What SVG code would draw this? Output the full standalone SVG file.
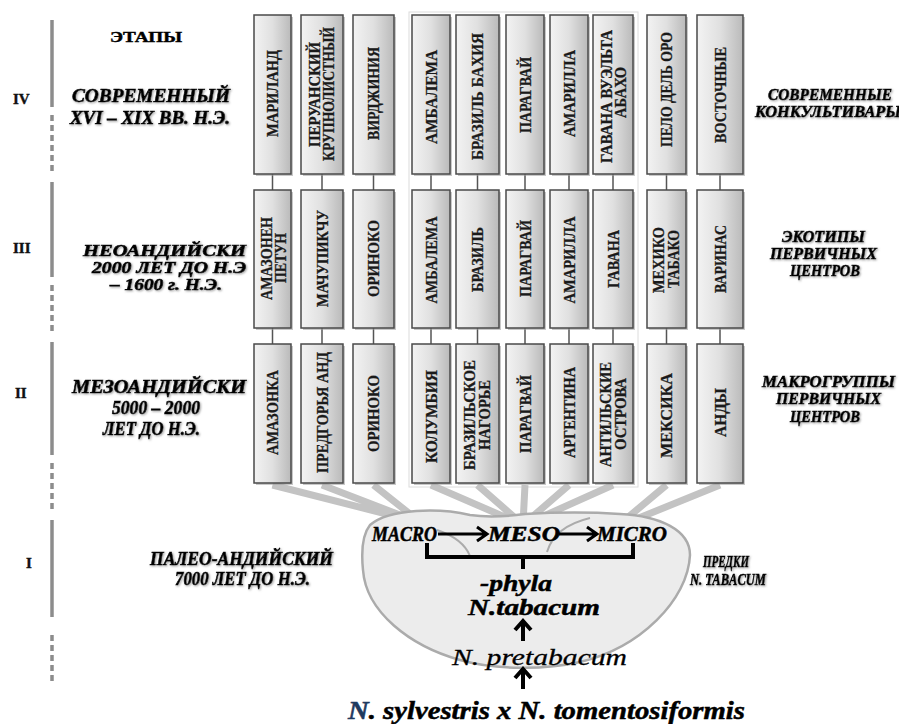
<svg xmlns="http://www.w3.org/2000/svg" width="899" height="724" viewBox="0 0 899 724">
<defs>
<linearGradient id="boxg" x1="0" y1="0" x2="1" y2="0">
<stop offset="0" stop-color="#f3f3f3"/>
<stop offset="0.5" stop-color="#e0e0e0"/>
<stop offset="1" stop-color="#bababa"/>
</linearGradient>
<filter id="sh" x="-10%" y="-20%" width="130%" height="150%">
<feDropShadow dx="1" dy="1" stdDeviation="0.8" flood-color="#777" flood-opacity="0.7"/>
</filter>
</defs>
<style>
.box{fill:url(#boxg);stroke:#4a4a4a;stroke-width:1.5}
.bsh{fill:#9a9a9a;opacity:0.55}
.bl{font-family:"Liberation Serif","Times New Roman",serif;font-weight:bold;font-size:17px;fill:#1a1a1a;stroke:#1a1a1a;stroke-width:0.3;text-anchor:middle}
.b2{font-size:16px}
.it{font-family:"Liberation Serif","Times New Roman",serif;font-weight:bold;font-style:italic;font-size:18px;fill:#000;stroke:#000;stroke-width:0.6;filter:url(#sh)}
.sm{font-size:16px}
.itr{font-family:"Liberation Serif","Times New Roman",serif;font-weight:bold;font-style:italic;font-size:16px;fill:#000;stroke:#000;stroke-width:0.6;filter:url(#sh)}
.rn{font-family:"Liberation Serif","Times New Roman",serif;font-weight:bold;font-size:15px;fill:#111;stroke:#111;stroke-width:0.4}
.tl{stroke:#8c8c8c;stroke-width:3.5;fill:none}
.tld{stroke:#8c8c8c;stroke-width:3.5;fill:none;stroke-dasharray:6 4}
.vc{stroke:#555;stroke-width:1.5;fill:none}
.fan{stroke:#c3c3c3;stroke-width:7;fill:none}
.blk{stroke:#000;stroke-width:3;fill:none;stroke-linejoin:miter}
.blk4{stroke:#000;stroke-width:4;fill:none}
.big{font-family:"Liberation Serif","Times New Roman",serif;font-weight:bold;font-style:italic;fill:#000;stroke:#000;stroke-width:0.5}
</style>
<rect width="899" height="724" fill="#fff"/>

<g id="timeline">
<line class="tl" x1="52" y1="20" x2="52" y2="107"/>
<line class="tld" x1="52" y1="115" x2="52" y2="174"/>
<line class="tl" x1="52" y1="182" x2="52" y2="277"/>
<line class="tld" x1="52" y1="285" x2="52" y2="335"/>
<line class="tl" x1="52" y1="342" x2="52" y2="455"/>
<line class="tld" x1="52" y1="463" x2="52" y2="512"/>
<line class="tl" x1="52" y1="520" x2="52" y2="617"/>
<line class="tld" x1="52" y1="635" x2="52" y2="684"/>
</g>
<g id="numerals">
<text class="rn" x="13" y="104">IV</text>
<text class="rn" x="13" y="253">III</text>
<text class="rn" x="15" y="398">II</text>
<text class="rn" x="26" y="568">I</text>
</g>

<g id="stage-labels">
<text x="110" y="42" font-family="Liberation Serif, serif" font-weight="bold" font-size="14" stroke="#000" stroke-width="0.4" textLength="72" lengthAdjust="spacingAndGlyphs">ЭТАПЫ</text>
<text class="it" x="72" y="102" textLength="158" lengthAdjust="spacingAndGlyphs">СОВРЕМЕННЫЙ</text>
<text class="it" x="70" y="124" textLength="160" lengthAdjust="spacingAndGlyphs">XVI – XIX ВВ. Н.Э.</text>
<text class="it sm" x="83" y="256" textLength="163" lengthAdjust="spacingAndGlyphs">НЕОАНДИЙСКИ</text>
<text class="it sm" x="92" y="273" textLength="154" lengthAdjust="spacingAndGlyphs">2000 ЛЕТ ДО Н.Э</text>
<text class="it sm" x="110" y="290" textLength="112" lengthAdjust="spacingAndGlyphs">– 1600 г. Н.Э.</text>
<text class="it" x="72" y="393" textLength="174" lengthAdjust="spacingAndGlyphs">МЕЗОАНДИЙСКИ</text>
<text class="it" x="112" y="414" textLength="88" lengthAdjust="spacingAndGlyphs">5000 – 2000</text>
<text class="it" x="103" y="435" textLength="97" lengthAdjust="spacingAndGlyphs">ЛЕТ ДО Н.Э.</text>
<text class="it" x="150" y="565" textLength="183" lengthAdjust="spacingAndGlyphs">ПАЛЕО-АНДИЙСКИЙ</text>
<text class="it" x="175" y="585" textLength="135" lengthAdjust="spacingAndGlyphs">7000 ЛЕТ ДО Н.Э.</text>
</g>

<g id="level-labels">
<text class="itr" x="768" y="100" textLength="124" lengthAdjust="spacingAndGlyphs">СОВРЕМЕННЫЕ</text>
<text class="itr" x="755" y="117" textLength="146" lengthAdjust="spacingAndGlyphs">КОНКУЛЬТИВАРЫ</text>
<text class="itr" x="782" y="242" textLength="83" lengthAdjust="spacingAndGlyphs">ЭКОТИПЫ</text>
<text class="itr" x="770" y="259" textLength="107" lengthAdjust="spacingAndGlyphs">ПЕРВИЧНЫХ</text>
<text class="itr" x="790" y="276" textLength="70" lengthAdjust="spacingAndGlyphs">ЦЕНТРОВ</text>
<text class="itr" x="762" y="387" textLength="133" lengthAdjust="spacingAndGlyphs">МАКРОГРУППЫ</text>
<text class="itr" x="776" y="404" textLength="105" lengthAdjust="spacingAndGlyphs">ПЕРВИЧНЫХ</text>
<text class="itr" x="790" y="422" textLength="70" lengthAdjust="spacingAndGlyphs">ЦЕНТРОВ</text>
<text class="itr" x="703" y="567" textLength="46" lengthAdjust="spacingAndGlyphs">ПРЕДКИ</text>
<text class="itr" x="690" y="585" textLength="76" lengthAdjust="spacingAndGlyphs">N. TABACUM</text>
</g>

<rect x="409" y="12" width="229" height="475" fill="none" stroke="#dcdcdc" stroke-width="1"/>

<g id="connectors">
<g id="row-links">
<path class="vc" d="M272.5 174V190M322 174V190M373.5 174V190M431 174V190M477.5 174V190M525 174V190M569 174V190M613 174V190M666.5 174V190M720 174V190"/>
<path class="vc" d="M272.5 328V344M322 328V344M373.5 328V344M431 328V344M477.5 328V344M525 328V344M569 328V344M613 328V344M666.5 328V344M720 328V344"/>
</g>
<g id="fan">
<path class="fan" d="M272.5 485L418 522M322 485L418 522M373.5 485L420 522"/>
<path class="fan" d="M431 485L521 524M477.5 485L522 524M525 485L523 524M569 485L524 524M613 485L526 524"/>
<path class="fan" d="M666.5 485L620 524M720 485L624 524"/>
</g>
</g>

<g id="phyla-shape">
<path d="M370 525C390 508 440 508 470 515C490 518 510 516 525 514C560 512 590 512 620 514C660 516 690 530 690 555C688 600 640 648 580 662C545 670 495 670 460 660C410 646 366 612 363 570C361 550 362 535 370 525Z" fill="#ececec" stroke="#ababab" stroke-width="2.5"/>
<path d="M437 530C455 536 466 546 470 556" fill="none" stroke="#ababab" stroke-width="2"/>
<path d="M547 552C552 535 565 524 590 518" fill="none" stroke="#ababab" stroke-width="2"/>
</g>

<g id="arrows">
<path class="blk" d="M438 534H486M477 527L487 534L477 541"/>
<path class="blk" d="M559 534H596M587 527L597 534L587 541"/>
<path class="blk4" d="M427 543V557H633V543M523 557V569"/>
<path class="blk4" d="M523 641V622M515 630L523 621L531 630"/>
<path class="blk4" d="M523 689V670M515 678L523 669L531 678"/>
</g>

<g id="phyla-labels">
<text class="big" x="372" y="541" font-size="20" textLength="65" lengthAdjust="spacingAndGlyphs">MACRO</text>
<text class="big" x="488" y="541" font-size="20" textLength="72" lengthAdjust="spacingAndGlyphs">MESO</text>
<text class="big" x="597" y="541" font-size="20" textLength="70" lengthAdjust="spacingAndGlyphs">MICRO</text>
<text class="big" x="480" y="591" font-size="24" textLength="72" lengthAdjust="spacingAndGlyphs">-phyla</text>
<text class="big" x="468" y="615" font-size="24" textLength="132" lengthAdjust="spacingAndGlyphs">N.tabacum</text>
<text x="452" y="665" font-family="Liberation Serif, serif" font-style="italic" font-size="24" stroke="#000" stroke-width="0.3" textLength="175" lengthAdjust="spacingAndGlyphs">N. pretabacum</text>
<text class="big" x="348" y="719" font-size="25" textLength="397" lengthAdjust="spacingAndGlyphs"><tspan fill="#1f3a5f" stroke="#1f3a5f">N</tspan>. sylvestris x N. tomentosiformis</text>
</g>

<g id="row4">
<g id="n4-1"><rect class="bsh" x="256" y="17" width="37" height="159"/><rect class="box" x="254" y="15" width="37" height="159"/><text class="bl" transform="translate(272.5,93.5) rotate(-90)" y="5.6" textLength="87" lengthAdjust="spacingAndGlyphs">МАРИЛАНД</text></g>
<g id="n4-2"><rect class="bsh" x="303" y="17" width="42" height="159"/><rect class="box" x="301" y="15" width="42" height="159"/><text class="bl b2" transform="translate(315,94.5) rotate(-90)" y="5.3" textLength="105" lengthAdjust="spacingAndGlyphs">ПЕРУАНСКИЙ</text><text class="bl b2" transform="translate(328.5,94) rotate(-90)" y="5.3" textLength="134" lengthAdjust="spacingAndGlyphs">КРУПНОЛИСТНЫЙ</text></g>
<g id="n4-3"><rect class="bsh" x="355" y="17" width="41" height="159"/><rect class="box" x="353" y="15" width="41" height="159"/><text class="bl" transform="translate(373.5,93.5) rotate(-90)" y="5.6" textLength="93" lengthAdjust="spacingAndGlyphs">ВИРДЖИНИЯ</text></g>
<g id="n4-4"><rect class="bsh" x="414" y="17" width="38" height="159"/><rect class="box" x="412" y="15" width="38" height="159"/><text class="bl" transform="translate(431,97) rotate(-90)" y="5.6" textLength="94" lengthAdjust="spacingAndGlyphs">АМБАЛЕМА</text></g>
<g id="n4-5"><rect class="bsh" x="458" y="17" width="43" height="159"/><rect class="box" x="456" y="15" width="43" height="159"/><text class="bl" transform="translate(477.5,96.5) rotate(-90)" y="5.6" textLength="127" lengthAdjust="spacingAndGlyphs">БРАЗИЛЬ БАХИЯ</text></g>
<g id="n4-6"><rect class="bsh" x="508" y="17" width="38" height="159"/><rect class="box" x="506" y="15" width="38" height="159"/><text class="bl" transform="translate(525,95) rotate(-90)" y="5.6" textLength="76" lengthAdjust="spacingAndGlyphs">ПАРАГВАЙ</text></g>
<g id="n4-7"><rect class="bsh" x="552" y="17" width="38" height="159"/><rect class="box" x="550" y="15" width="38" height="159"/><text class="bl" transform="translate(569,93.5) rotate(-90)" y="5.6" textLength="87" lengthAdjust="spacingAndGlyphs">АМАРИЛЛА</text></g>
<g id="n4-8"><rect class="bsh" x="595" y="17" width="40" height="159"/><rect class="box" x="593" y="15" width="40" height="159"/><text class="bl b2" transform="translate(606.5,96.5) rotate(-90)" y="5.3" textLength="133" lengthAdjust="spacingAndGlyphs">ГАВАНА ВУЭЛЬТА</text><text class="bl b2" transform="translate(621,92.5) rotate(-90)" y="5.3" textLength="51" lengthAdjust="spacingAndGlyphs">АБАХО</text></g>
<g id="n4-9"><rect class="bsh" x="649" y="17" width="39" height="159"/><rect class="box" x="647" y="15" width="39" height="159"/><text class="bl" transform="translate(666.5,89.5) rotate(-90)" y="5.6" textLength="115" lengthAdjust="spacingAndGlyphs">ПЕЛО ДЕЛЬ ОРО</text></g>
<g id="n4-10"><rect class="bsh" x="699" y="17" width="46" height="159"/><rect class="box" x="697" y="15" width="46" height="159"/><text class="bl" transform="translate(720,95) rotate(-90)" y="5.6" textLength="96" lengthAdjust="spacingAndGlyphs">ВОСТОЧНЫЕ</text></g>
</g>

<g id="row3">
<g id="n3-1"><rect class="bsh" x="256" y="192" width="37" height="138"/><rect class="box" x="254" y="190" width="37" height="138"/><text class="bl b2" transform="translate(266.5,258.5) rotate(-90)" y="5.3" textLength="83" lengthAdjust="spacingAndGlyphs">АМАЗОНЕН</text><text class="bl b2" transform="translate(281,258) rotate(-90)" y="5.3" textLength="50" lengthAdjust="spacingAndGlyphs">ПЕТУН</text></g>
<g id="n3-2"><rect class="bsh" x="303" y="192" width="42" height="138"/><rect class="box" x="301" y="190" width="42" height="138"/><text class="bl" transform="translate(322,258.5) rotate(-90)" y="5.6" textLength="97" lengthAdjust="spacingAndGlyphs">МАЧУПИКЧУ</text></g>
<g id="n3-3"><rect class="bsh" x="355" y="192" width="41" height="138"/><rect class="box" x="353" y="190" width="41" height="138"/><text class="bl" transform="translate(373.5,258.5) rotate(-90)" y="5.6" textLength="77" lengthAdjust="spacingAndGlyphs">ОРИНОКО</text></g>
<g id="n3-4"><rect class="bsh" x="414" y="192" width="38" height="138"/><rect class="box" x="412" y="190" width="38" height="138"/><text class="bl" transform="translate(431,260) rotate(-90)" y="5.6" textLength="87" lengthAdjust="spacingAndGlyphs">АМБАЛЕМА</text></g>
<g id="n3-5"><rect class="bsh" x="458" y="192" width="43" height="138"/><rect class="box" x="456" y="190" width="43" height="138"/><text class="bl" transform="translate(477.5,259.5) rotate(-90)" y="5.6" textLength="65" lengthAdjust="spacingAndGlyphs">БРАЗИЛЬ</text></g>
<g id="n3-6"><rect class="bsh" x="508" y="192" width="38" height="138"/><rect class="box" x="506" y="190" width="38" height="138"/><text class="bl" transform="translate(525,258.5) rotate(-90)" y="5.6" textLength="77" lengthAdjust="spacingAndGlyphs">ПАРАГВАЙ</text></g>
<g id="n3-7"><rect class="bsh" x="552" y="192" width="38" height="138"/><rect class="box" x="550" y="190" width="38" height="138"/><text class="bl" transform="translate(569,260) rotate(-90)" y="5.6" textLength="87" lengthAdjust="spacingAndGlyphs">АМАРИЛЛА</text></g>
<g id="n3-8"><rect class="bsh" x="595" y="192" width="40" height="138"/><rect class="box" x="593" y="190" width="40" height="138"/><text class="bl" transform="translate(613,259) rotate(-90)" y="5.6" textLength="58" lengthAdjust="spacingAndGlyphs">ГАВАНА</text></g>
<g id="n3-9"><rect class="bsh" x="649" y="192" width="39" height="138"/><rect class="box" x="647" y="190" width="39" height="138"/><text class="bl b2" transform="translate(659,260) rotate(-90)" y="5.3" textLength="66" lengthAdjust="spacingAndGlyphs">МЕХИКО</text><text class="bl b2" transform="translate(674,259) rotate(-90)" y="5.3" textLength="58" lengthAdjust="spacingAndGlyphs">ТАБАКО</text></g>
<g id="n3-10"><rect class="bsh" x="699" y="192" width="46" height="138"/><rect class="box" x="697" y="190" width="46" height="138"/><text class="bl" transform="translate(720,259) rotate(-90)" y="5.6" textLength="68" lengthAdjust="spacingAndGlyphs">ВАРИНАС</text></g>
</g>

<g id="row2">
<g id="n2-1"><rect class="bsh" x="256" y="346" width="37" height="139"/><rect class="box" x="254" y="344" width="37" height="139"/><text class="bl" transform="translate(272.5,412.5) rotate(-90)" y="5.6" textLength="85" lengthAdjust="spacingAndGlyphs">АМАЗОНКА</text></g>
<g id="n2-2"><rect class="bsh" x="303" y="346" width="42" height="139"/><rect class="box" x="301" y="344" width="42" height="139"/><text class="bl" transform="translate(322,412.5) rotate(-90)" y="5.6" textLength="121" lengthAdjust="spacingAndGlyphs">ПРЕДГОРЬЯ АНД</text></g>
<g id="n2-3"><rect class="bsh" x="355" y="346" width="41" height="139"/><rect class="box" x="353" y="344" width="41" height="139"/><text class="bl" transform="translate(373.5,413.5) rotate(-90)" y="5.6" textLength="77" lengthAdjust="spacingAndGlyphs">ОРИНОКО</text></g>
<g id="n2-4"><rect class="bsh" x="414" y="346" width="38" height="139"/><rect class="box" x="412" y="344" width="38" height="139"/><text class="bl" transform="translate(431,416.5) rotate(-90)" y="5.6" textLength="93" lengthAdjust="spacingAndGlyphs">КОЛУМБИЯ</text></g>
<g id="n2-5"><rect class="bsh" x="458" y="346" width="43" height="139"/><rect class="box" x="456" y="344" width="43" height="139"/><text class="bl b2" transform="translate(470,415) rotate(-90)" y="5.3" textLength="110" lengthAdjust="spacingAndGlyphs">БРАЗИЛЬСКОЕ</text><text class="bl b2" transform="translate(485,415) rotate(-90)" y="5.3" textLength="70" lengthAdjust="spacingAndGlyphs">НАГОРЬЕ</text></g>
<g id="n2-6"><rect class="bsh" x="508" y="346" width="38" height="139"/><rect class="box" x="506" y="344" width="38" height="139"/><text class="bl" transform="translate(525,414) rotate(-90)" y="5.6" textLength="78" lengthAdjust="spacingAndGlyphs">ПАРАГВАЙ</text></g>
<g id="n2-7"><rect class="bsh" x="552" y="346" width="38" height="139"/><rect class="box" x="550" y="344" width="38" height="139"/><text class="bl" transform="translate(569,412.5) rotate(-90)" y="5.6" textLength="91" lengthAdjust="spacingAndGlyphs">АРГЕНТИНА</text></g>
<g id="n2-8"><rect class="bsh" x="595" y="346" width="40" height="139"/><rect class="box" x="593" y="344" width="40" height="139"/><text class="bl b2" transform="translate(606,414.5) rotate(-90)" y="5.3" textLength="105" lengthAdjust="spacingAndGlyphs">АНТИЛЬСКИЕ</text><text class="bl b2" transform="translate(621,414) rotate(-90)" y="5.3" textLength="72" lengthAdjust="spacingAndGlyphs">ОСТРОВА</text></g>
<g id="n2-9"><rect class="bsh" x="649" y="346" width="39" height="139"/><rect class="box" x="647" y="344" width="39" height="139"/><text class="bl" transform="translate(666.5,415.5) rotate(-90)" y="5.6" textLength="85" lengthAdjust="spacingAndGlyphs">МЕКСИКА</text></g>
<g id="n2-10"><rect class="bsh" x="699" y="346" width="46" height="139"/><rect class="box" x="697" y="344" width="46" height="139"/><text class="bl" transform="translate(720,412.5) rotate(-90)" y="5.6" textLength="49" lengthAdjust="spacingAndGlyphs">АНДЫ</text></g>
</g>
</svg>
